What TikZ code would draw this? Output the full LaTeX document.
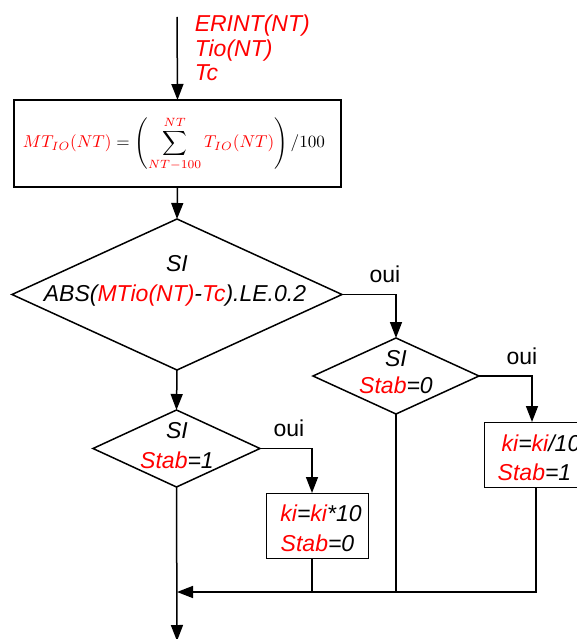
\documentclass[tikz,border=0pt]{standalone}
\usepackage[no-math]{fontspec}
\usepackage{graphicx}
\newfontfamily\af{Liberation Sans}
\usetikzlibrary{shapes.geometric,arrows.meta}
\begin{document}
\begin{tikzpicture}[x=1pt,y=-1pt,
  line width=1.5pt,
  arr/.style={-{Triangle[length=16pt,width=12pt]}},
  tx/.style={font=\af\itshape\fontsize{23}{23}\selectfont, inner sep=0pt, text height=16.5pt, text depth=0pt},
  lbl/.style={font=\af\fontsize{23}{23}\selectfont, inner sep=0pt, text height=16.5pt, text depth=0pt},
  dia/.style={draw, diamond, inner sep=0pt, outer sep=0pt, line width=1.5pt},
  bx/.style={draw, rectangle, inner sep=0pt, outer sep=0pt},
]
\useasboundingbox (0,0) rectangle (577,639);
\clip (0,0) rectangle (577,639);
% inputs
\coordinate (top) at (177,17);
\node[tx, anchor=west, text=red] (in1) at (194,23) {ERINT(NT)};
\node[tx, anchor=west, text=red] (in2) at (194,48) {Tio(NT)};
\node[tx, anchor=west, text=red] (in3) at (194,72) {Tc};
% formula box
\node[bx, line width=1.5pt, minimum width=327pt, minimum height=87pt] (b1) at (177.5,143.5) {};
\node[inner sep=0pt] (f1) at (174,144) {\resizebox{302pt}{!}{$\displaystyle \textcolor{red}{MT_{IO}(NT)} = \left(\sum\limits_{\textcolor{red}{NT-100}}^{\textcolor{red}{NT}} \textcolor{red}{T_{IO}(NT)}\right)/100$}};
% diamonds
\node[dia, minimum width=330pt, minimum height=151pt] (d1) at (177,294.5) {};
\node[tx] (d1a) at (177,263) {SI};
\node[tx] (d1b) at (175,293) {ABS(\textcolor{red}{MTio(NT)}-\textcolor{red}{Tc}).LE.0.2};
\node[dia, minimum width=166pt, minimum height=76pt] (d2) at (396,376) {};
\node[tx] (d2a) at (396,358) {SI};
\node[tx] (d2b) at (396,385) {\textcolor{red}{Stab}=0};
\node[dia, minimum width=167pt, minimum height=77pt] (d3) at (176.5,448.5) {};
\node[tx] (d3a) at (177,430) {SI};
\node[tx] (d3b) at (177,460) {\textcolor{red}{Stab}=1};
% boxes
\node[bx, line width=1pt, minimum width=102pt, minimum height=65pt] (b2) at (317,525.5) {};
\node[tx] (b2a) at (321,513) {\textcolor{red}{ki}=\textcolor{red}{ki}*10};
\node[tx] (b2b) at (317.5,543) {\textcolor{red}{Stab}=0};
\node[bx, line width=1pt, minimum width=102pt, minimum height=65pt] (b3) at (535,454.5) {};
\node[tx] (b3a) at (541,443) {\textcolor{red}{ki}=\textcolor{red}{ki}/10};
\node[tx] (b3b) at (534.5,472) {\textcolor{red}{Stab}=1};
% labels
\node[lbl] (o1) at (385,274.5) {oui};
\node[lbl] (o2) at (522,356) {oui};
\node[lbl] (o3) at (289,428) {oui};
% connectors
\coordinate (b2in) at ([xshift=-5pt]b2.north);
\coordinate (b2out) at ([xshift=-5pt]b2.south);
\coordinate (b3in) at ([xshift=-3pt]b3.north);
\coordinate (b3out) at ([xshift=1pt]b3.south);
\coordinate (m) at (177,592);
\coordinate (end) at (177,641);
\draw[arr] (top) -- (b1.north);
\draw[arr] (b1.south) -- (d1.north);
\draw[arr] (d1.south) -- (d3.north);
\draw[arr] (d1.east) -| (d2.north);
\draw[arr] (d2.east) -| (b3in);
\draw[arr] (d3.east) -| (b2in);
\draw[arr] (d3.south) -- (end);
\draw (d2.south) -- (d2.south |- m);
\draw (b2out) -- (b2out |- m);
\draw[arr] (b3out) |- (m);
\end{tikzpicture}
\end{document}
